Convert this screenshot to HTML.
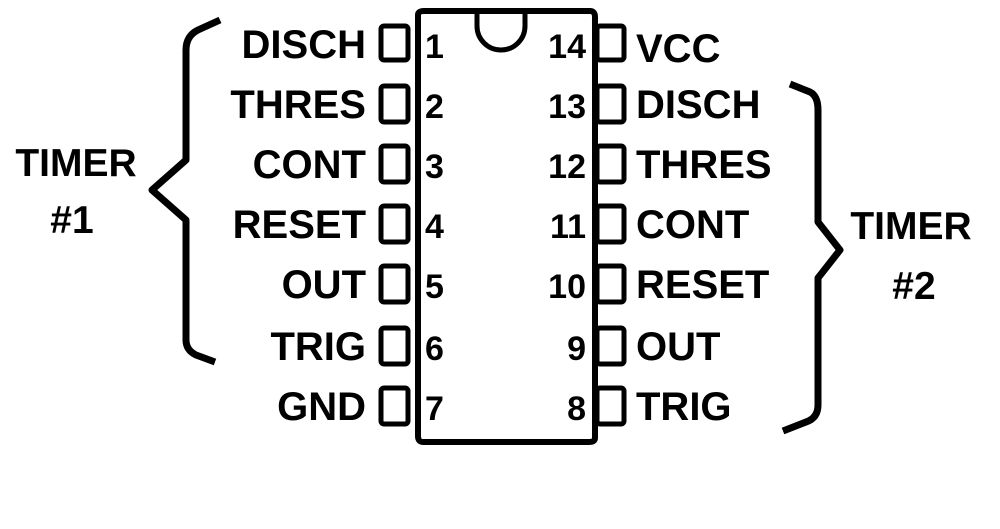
<!DOCTYPE html>
<html><head><style>body{margin:0;background:#fff}svg{display:block}</style></head>
<body>
<svg width="1000" height="529" viewBox="0 0 1000 529" xmlns="http://www.w3.org/2000/svg" font-family="Liberation Sans, sans-serif" font-weight="bold" fill="#000">
<g fill="none" stroke="#000" stroke-width="6" stroke-linejoin="round">
<path d="M418 15 Q418 11 424 11 L590 11 Q595 11 595 17 L595 438 Q595 442 589 442 L423 442 Q418 442 418 436 Z"/>
<path d="M477 13 L477 26 A24 24 0 0 0 525 26 L525 13" stroke-width="5"/>
<g stroke-width="5">
<rect x="381" y="26" width="27" height="34" rx="3"/>
<rect x="381" y="86" width="27" height="36" rx="3"/>
<rect x="381" y="146" width="27" height="36" rx="3"/>
<rect x="381" y="206" width="27" height="36" rx="3"/>
<rect x="381" y="266" width="27" height="36" rx="3"/>
<rect x="381" y="328" width="27" height="36" rx="3"/>
<rect x="381" y="388" width="27" height="36" rx="3"/>
<rect x="597" y="26" width="27" height="34" rx="3"/>
<rect x="597" y="86" width="27" height="36" rx="3"/>
<rect x="597" y="146" width="27" height="36" rx="3"/>
<rect x="597" y="206" width="27" height="36" rx="3"/>
<rect x="597" y="266" width="27" height="36" rx="3"/>
<rect x="597" y="328" width="27" height="36" rx="3"/>
<rect x="597" y="388" width="27" height="36" rx="3"/>
</g>
<path d="M220 20 L198 30 Q186 36 186 50 L186 160 L152 190 L186 220 L186 340 Q186 350 196 355 L215 362" stroke-width="7"/>
<path d="M790 84 L810 92 Q818 96 818 110 L818 222 L840 250 L818 278 L818 405 Q818 418 806 422 L783 431" stroke-width="7"/>
</g>
<g font-size="40" text-anchor="end">
<text x="366" y="58">DISCH</text>
<text x="366" y="118">THRES</text>
<text x="366" y="178">CONT</text>
<text x="366" y="238">RESET</text>
<text x="366" y="298">OUT</text>
<text x="366" y="360">TRIG</text>
<text x="366" y="420">GND</text>
</g>
<g font-size="34">
<text x="425" y="58">1</text>
<text x="425" y="118">2</text>
<text x="425" y="178">3</text>
<text x="425" y="238">4</text>
<text x="425" y="298">5</text>
<text x="425" y="360">6</text>
<text x="425" y="420">7</text>
</g>
<g font-size="34" text-anchor="end">
<text x="586" y="58">14</text>
<text x="586" y="118">13</text>
<text x="586" y="178">12</text>
<text x="586" y="238">11</text>
<text x="586" y="298">10</text>
<text x="586" y="360">9</text>
<text x="586" y="420">8</text>
</g>
<g font-size="40">
<text x="636" y="62">VCC</text>
<text x="636" y="118">DISCH</text>
<text x="636" y="178">THRES</text>
<text x="636" y="238">CONT</text>
<text x="636" y="298">RESET</text>
<text x="636" y="360">OUT</text>
<text x="636" y="420">TRIG</text>
</g>
<g font-size="39" text-anchor="middle">
<text x="76" y="176">TIMER</text>
<text x="72" y="233">#1</text>
<text x="911" y="239">TIMER</text>
<text x="914" y="299">#2</text>
</g>
</svg>
</body></html>
